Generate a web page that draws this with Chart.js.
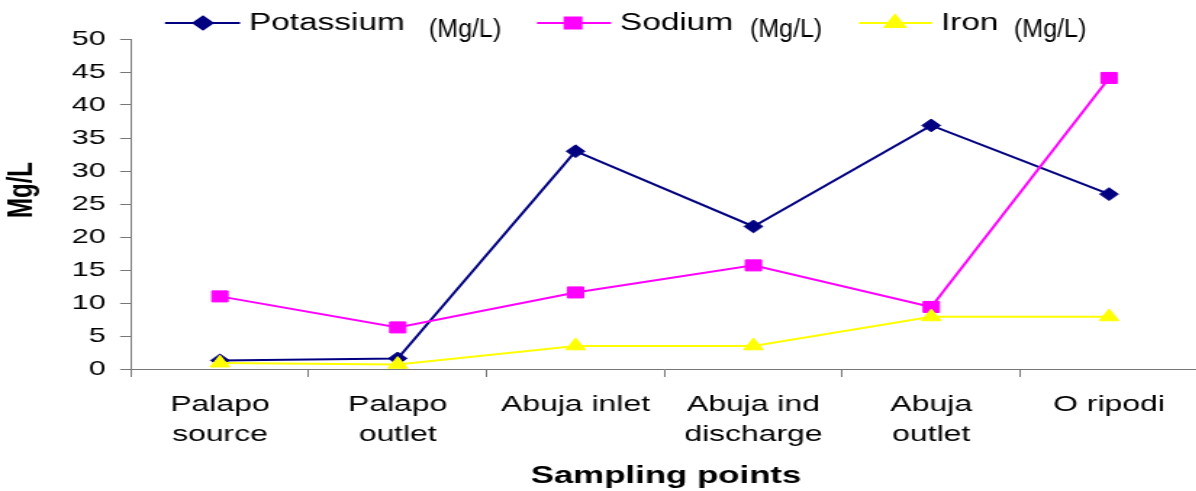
<!DOCTYPE html>
<html>
<head>
<meta charset="utf-8">
<script src="https://cdn.jsdelivr.net/npm/chart.js@4/dist/chart.umd.min.js"></script>
<style>
  html, body { margin: 0; padding: 0; background: #fff; overflow: hidden; width: 1196px; height: 491px; }
  #wrap { position: absolute; left: 0; top: 0; width: 835px; height: 491px;
          transform: scaleX(1.45); transform-origin: 0 0; }
</style>
</head>
<body>
<div id="wrap"><canvas id="chart"></canvas></div>
<script>
// Sampling points along the river
const categories = [
  ['Palapo', 'source'],
  ['Palapo', 'outlet'],
  'Abuja inlet',
  ['Abuja ind', 'discharge'],
  ['Abuja', 'outlet'],
  'O ripodi'
];

// Concentrations, Mg/L
const potassium = [1.3, 1.6, 33.0, 21.6, 36.9, 26.5];
const sodium    = [11.0, 6.3, 11.6, 15.7, 9.4, 44.1];
const iron      = [0.9, 0.7, 3.5, 3.5, 7.9, 7.9];

const seriesNames = ['Potassium', 'Sodium', 'Iron'];
const unitLabel = '(Mg/L)';
const yTitle = 'Mg/L';
const xTitle = 'Sampling points';

const STRETCH = 1.45;            // horizontal stretch applied to the canvas wrapper
const FONT = "'Liberation Sans', Arial, sans-serif";

const styles = [
  { color: '#000080', pointStyle: 'rectRot',  radius: 6.4 },
  { color: '#FF00FF', pointStyle: 'rect',     radius: 7.8 },
  { color: '#FFFF00', pointStyle: 'triangle', radius: 7.8 }
];

const seriesData = [potassium, sodium, iron];

const datasets = seriesData.map((d, i) => ({
  label: seriesNames[i],
  data: d,
  borderColor: styles[i].color,
  backgroundColor: styles[i].color,
  pointBackgroundColor: styles[i].color,
  pointBorderColor: styles[i].color,
  pointStyle: styles[i].pointStyle,
  pointRadius: styles[i].radius,
  pointBorderWidth: 1,
  borderWidth: 2,
  tension: 0,
  clip: false,
  order: 3 - i
}));

// Legend across the top plus the two axis titles
const decorations = {
  id: 'decorations',
  afterDraw(chart) {
    const ctx = chart.ctx;
    const legendX = [
      { line: [165, 240], marker: 203, text: 249, unit: 429 },
      { line: [537, 611], marker: 573, text: 620, unit: 750 },
      { line: [859, 932], marker: 895, text: 941, unit: 1014 }
    ];
    const ly = 23;
    ctx.save();
    legendX.forEach((p, i) => {
      const st = styles[i];
      ctx.strokeStyle = st.color;
      ctx.lineWidth = 2;
      ctx.beginPath();
      ctx.moveTo(p.line[0] / STRETCH, ly);
      ctx.lineTo(p.line[1] / STRETCH, ly);
      ctx.stroke();
      ctx.fillStyle = st.color;
      Chart.helpers.drawPoint(ctx, {
        pointStyle: st.pointStyle, radius: st.radius, rotation: 0, borderWidth: 1
      }, p.marker / STRETCH, ly);

      ctx.fillStyle = '#000';
      ctx.font = '23px ' + FONT;
      ctx.textAlign = 'left';
      ctx.textBaseline = 'alphabetic';
      ctx.fillText(seriesNames[i], p.text / STRETCH, 30);

      ctx.save();
      ctx.scale(1 / STRETCH, 1);
      ctx.font = '25px ' + FONT;
      ctx.fillText(unitLabel, p.unit, 37);
      ctx.restore();
    });

    ctx.fillStyle = '#000';
    ctx.font = 'bold 24px ' + FONT;
    ctx.textAlign = 'center';
    ctx.textBaseline = 'middle';
    ctx.fillText(xTitle, 666 / STRETCH, 476);

    ctx.save();
    ctx.translate(22 / STRETCH, 190);
    ctx.rotate(-Math.PI / 2);
    ctx.fillText(yTitle, 0, 0);
    ctx.restore();
    ctx.restore();
  }
};

new Chart(document.getElementById('chart'), {
  type: 'line',
  data: { labels: categories, datasets },
  options: {
    responsive: true,
    maintainAspectRatio: false,
    animation: false,
    events: [],
    layout: { padding: { top: 39, left: 0, right: 0, bottom: 0 } },
    plugins: { legend: { display: false }, tooltip: { enabled: false } },
    scales: {
      x: {
        type: 'category',
        offset: true,
        grid: { offset: true, drawOnChartArea: false, drawTicks: true, tickLength: 8, color: '#777', lineWidth: 1 },
        border: { color: '#777', width: 1 },
        ticks: {
          color: '#000',
          font: { family: FONT, size: 22, lineHeight: 1.36 },
          padding: 13,
          maxRotation: 0,
          minRotation: 0,
          autoSkip: false
        },
        afterFit(scale) { scale.height = 122; }
      },
      y: {
        min: 0,
        max: 50,
        grid: { drawOnChartArea: false, drawTicks: true, tickLength: 7.5, color: '#777', lineWidth: 1 },
        border: { color: '#777', width: 1 },
        ticks: {
          stepSize: 5,
          color: '#000',
          font: { family: FONT, size: 21 },
          padding: 10
        },
        afterFit(scale) { scale.width = 131 / STRETCH; }
      }
    }
  },
  plugins: [decorations]
});
</script>
</body>
</html>
